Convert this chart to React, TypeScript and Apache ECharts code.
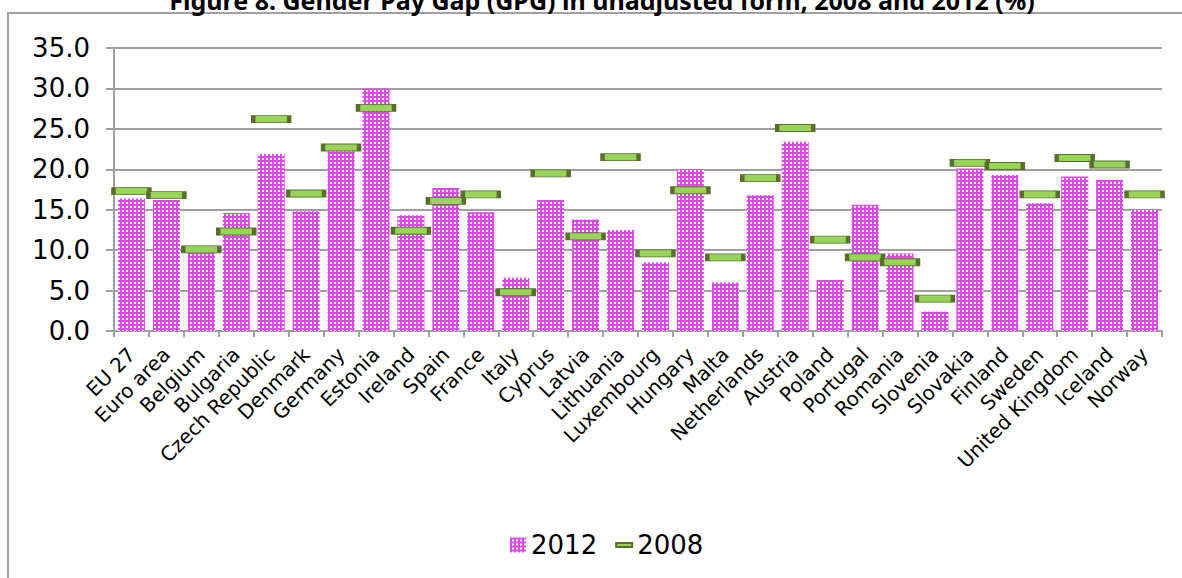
import React, { useEffect, useRef } from "react";
import * as echarts from "echarts";

// Countries along the x axis
const categories = [
  "EU 27", "Euro area", "Belgium", "Bulgaria", "Czech Republic", "Denmark",
  "Germany", "Estonia", "Ireland", "Spain", "France", "Italy", "Cyprus",
  "Latvia", "Lithuania", "Luxembourg", "Hungary", "Malta", "Netherlands",
  "Austria", "Poland", "Portugal", "Romania", "Slovenia", "Slovakia",
  "Finland", "Sweden", "United Kingdom", "Iceland", "Norway",
];

// Unadjusted gender pay gap, %
const gap2012 = [
  16.4, 16.2, 9.7, 14.6, 21.9, 14.8, 22.2, 30.0, 14.3, 17.7, 14.7, 6.6, 16.2,
  13.8, 12.5, 8.5, 20.0, 6.0, 16.8, 23.4, 6.3, 15.6, 9.6, 2.4, 20.1, 19.3,
  15.8, 19.1, 18.7, 15.0,
];
const gap2008 = [
  17.3, 16.8, 10.1, 12.3, 26.2, 17.0, 22.7, 27.6, 12.4, 16.1, 16.9, 4.8, 19.5,
  11.7, 21.5, 9.6, 17.4, 9.1, 18.9, 25.1, 11.3, 9.1, 8.5, 4.0, 20.8, 20.4,
  16.9, 21.4, 20.6, 16.9,
];

// Value axis range
const yMin = 0;
const yMax = 35;
const yStep = 5;

const titleText = "Figure 8: Gender Pay Gap (GPG) in unadjusted form, 2008 and 2012 (%)";
const seriesNames = ["2012", "2008"];

// Small checkered fill for the 2012 bars
function checkTile(): string {
  const c = document.createElement("canvas");
  c.width = 4;
  c.height = 4;
  const ctx = c.getContext("2d")!;
  ctx.fillStyle = "#dc48ec";
  ctx.fillRect(0, 0, 4, 4);
  ctx.fillStyle = "#ffffff";
  ctx.fillRect(2, 2, 2, 2);
  return c.toDataURL();
}

const GRID = "#a0a0a0";
const FONT = "DejaVu Sans";

export default function App() {
  const ref = useRef<HTMLDivElement>(null);

  useEffect(() => {
    if (!ref.current) return;
    const chart = echarts.init(ref.current, null, { renderer: "svg" });
    const pink = { image: checkTile(), repeat: "repeat", imageWidth: 4, imageHeight: 4 } as any;

    chart.setOption({
      animation: false,
      backgroundColor: "#ffffff",
      graphic: [
        {
          type: "rect",
          silent: true,
          shape: { x: 8, y: 13, width: 1200, height: 600 },
          style: { fill: "none", stroke: GRID, lineWidth: 2 },
        },
        {
          type: "text",
          silent: true,
          x: 602,
          y: 0,
          style: {
            text: titleText,
            font: 'bold 25px "Noto Sans"',
            fill: "#000000",
            align: "center",
            verticalAlign: "middle",
          },
        },
      ],
      grid: { left: 114, right: 20, top: 48, bottom: 247, containLabel: false },
      legend: {
        data: seriesNames.map((n, i) =>
          i === 0 ? { name: n, icon: "rect" } : { name: n, icon: "path://M0,0 L20,0 L20,5 L0,5 Z" }
        ),
        left: 505,
        top: 527,
        itemWidth: 16,
        itemHeight: 15,
        itemGap: 18,
        symbolKeepAspect: true,
        textStyle: { fontFamily: FONT, fontSize: 26, color: "#000000", lineHeight: 26, padding: [0, 0, 0, 0] },
      },
      xAxis: {
        type: "category",
        data: categories,
        boundaryGap: true,
        axisLine: { show: true, lineStyle: { color: GRID, width: 2 } },
        axisTick: { show: true, length: 6, lineStyle: { color: GRID, width: 2 } },
        axisLabel: {
          rotate: 45,
          interval: 0,
          margin: 20,
          fontFamily: FONT,
          fontSize: 20,
          color: "#000000",
        },
      },
      yAxis: {
        type: "value",
        min: yMin,
        max: yMax,
        interval: yStep,
        axisLine: { show: true, lineStyle: { color: GRID, width: 2 } },
        axisTick: { show: true, length: 8, lineStyle: { color: GRID, width: 2 } },
        splitLine: { show: true, lineStyle: { color: GRID, width: 2 } },
        axisLabel: {
          margin: 24,
          fontFamily: FONT,
          fontSize: 26,
          color: "#000000",
          formatter: (v: number) => v.toFixed(1),
        },
      },
      series: [
        {
          name: seriesNames[0],
          type: "bar",
          data: gap2012,
          barWidth: 27,
          itemStyle: { color: pink },
          z: 2,
        },
        {
          name: seriesNames[1],
          type: "scatter",
          data: gap2008,
          symbol: "rect",
          symbolSize: [36, 7],
          itemStyle: { color: "#98d45a", borderColor: "#5a6f2e", borderWidth: 2, opacity: 1 },
          z: 4,
        },
      ],
    });

    return () => chart.dispose();
  }, []);

  return (
    <div
      ref={ref}
      style={{ position: "fixed", left: 0, top: 0, width: 1182, height: 578, background: "#fff" }}
    />
  );
}
